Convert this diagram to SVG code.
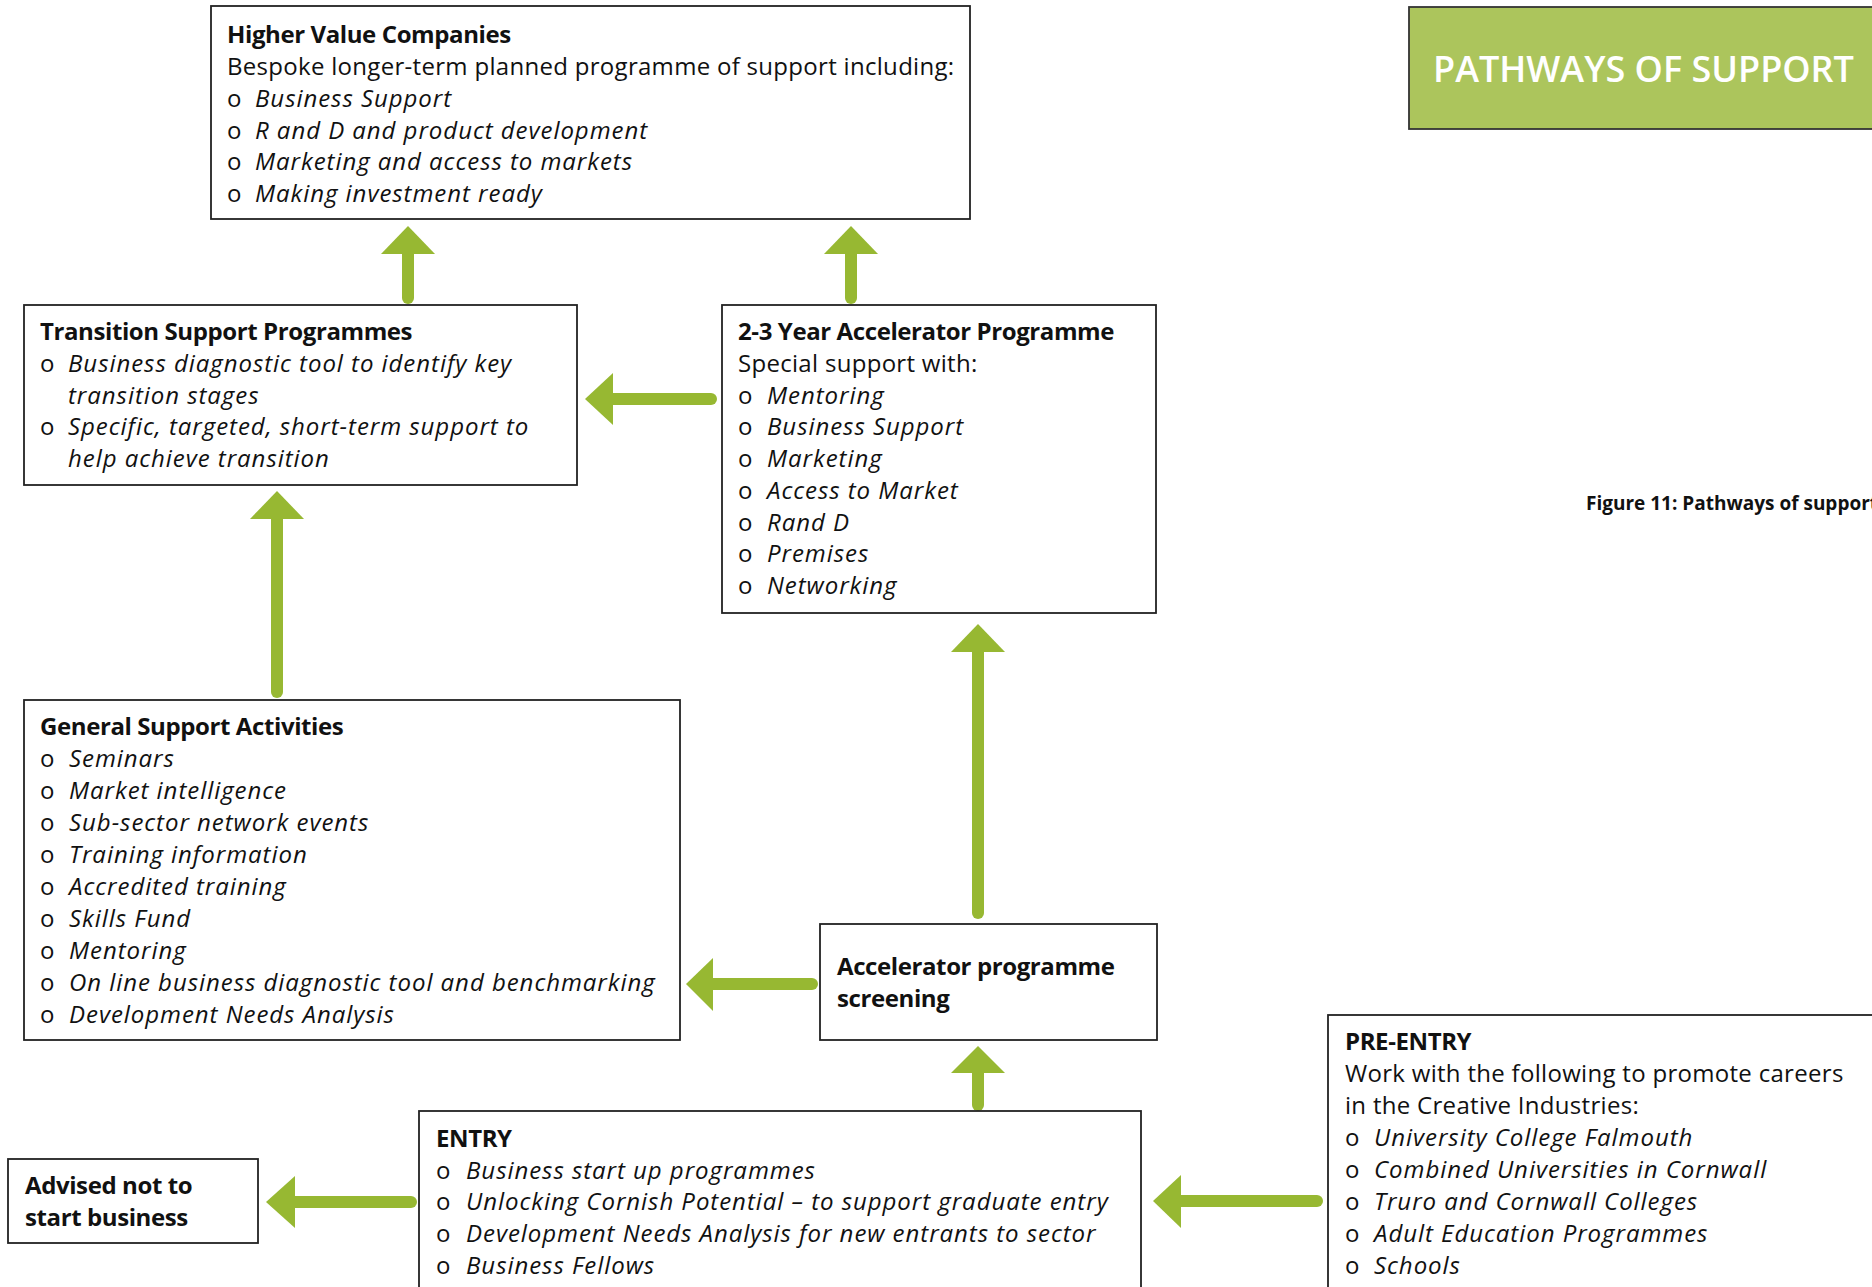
<svg xmlns="http://www.w3.org/2000/svg" width="1872" height="1287" viewBox="0 0 1872 1287">
<defs>
<style>
.box{fill:#ffffff;stroke:#222222;stroke-width:1.8}
.t{font-family:"Open Sans","Liberation Sans",sans-serif;font-size:24px;fill:#111111;letter-spacing:0.3px}
.b{font-weight:bold;letter-spacing:-0.4px}
.i{font-style:italic;letter-spacing:0.95px}
.shaft{stroke:#97b832;stroke-width:12;stroke-linecap:round;fill:none}
.head{fill:#97b832}
</style>
</defs>
<rect width="1872" height="1287" fill="#ffffff"/>

<g id="title">
<rect x="1409" y="7" width="480" height="122" fill="#acc55c" stroke="#333333" stroke-width="1.8"/>
<text x="1433" y="82" font-family="'Open Sans','Liberation Sans',sans-serif" font-size="36" font-weight="600" fill="#ffffff">PATHWAYS OF SUPPORT</text>
</g>

<g id="caption">
<text x="1586" y="510" font-family="'Open Sans','Liberation Sans',sans-serif" font-size="19" font-weight="bold" fill="#111111">Figure 11: Pathways of support</text>
</g>

<g id="connectors">
<line class="shaft" x1="408" y1="250" x2="408" y2="298"/>
<polygon class="head" points="408,226 435,254 381,254"/>
<line class="shaft" x1="851" y1="250" x2="851" y2="298"/>
<polygon class="head" points="851,226 878,254 824,254"/>
<line class="shaft" x1="609" y1="399" x2="711" y2="399"/>
<polygon class="head" points="585,399 613,373 613,425"/>
<line class="shaft" x1="277" y1="515" x2="277" y2="692"/>
<polygon class="head" points="277,491 304,519 250,519"/>
<line class="shaft" x1="978" y1="648" x2="978" y2="913"/>
<polygon class="head" points="978,624 1005,652 951,652"/>
<line class="shaft" x1="709" y1="984" x2="812" y2="984"/>
<polygon class="head" points="686,984 713,958 713,1011"/>
<line class="shaft" x1="978" y1="1069" x2="978" y2="1105"/>
<polygon class="head" points="978,1046 1005,1073 951,1073"/>
<line class="shaft" x1="291" y1="1202" x2="411" y2="1202"/>
<polygon class="head" points="266,1202 295,1176 295,1228"/>
<line class="shaft" x1="1177" y1="1201" x2="1317" y2="1201"/>
<polygon class="head" points="1153,1201 1181,1175 1181,1228"/>
</g>

<g id="higher-value">
<rect class="box" x="211" y="6" width="759" height="213"/>
<text class="t b" x="227" y="43">Higher Value Companies</text>
<text class="t" x="227" y="75">Bespoke longer-term planned programme of support including:</text>
<text class="t" x="227" y="107">o</text><text class="t i" x="255" y="107">Business Support</text>
<text class="t" x="227" y="139">o</text><text class="t i" x="255" y="139">R and D and product development</text>
<text class="t" x="227" y="170">o</text><text class="t i" x="255" y="170">Marketing and access to markets</text>
<text class="t" x="227" y="202">o</text><text class="t i" x="255" y="202">Making investment ready</text>
</g>

<g id="transition">
<rect class="box" x="24" y="305" width="553" height="180"/>
<text class="t b" x="40" y="340">Transition Support Programmes</text>
<text class="t" x="40" y="372">o</text><text class="t i" x="68" y="372">Business diagnostic tool to identify key</text>
<text class="t i" x="68" y="404">transition stages</text>
<text class="t" x="40" y="435">o</text><text class="t i" x="68" y="435">Specific, targeted, short-term support to</text>
<text class="t i" x="68" y="467">help achieve transition</text>
</g>

<g id="accelerator">
<rect class="box" x="722" y="305" width="434" height="308"/>
<text class="t b" x="738" y="340">2-3 Year Accelerator Programme</text>
<text class="t" x="738" y="372">Special support with:</text>
<text class="t" x="738" y="404">o</text><text class="t i" x="767" y="404">Mentoring</text>
<text class="t" x="738" y="435">o</text><text class="t i" x="767" y="435">Business Support</text>
<text class="t" x="738" y="467">o</text><text class="t i" x="767" y="467">Marketing</text>
<text class="t" x="738" y="499">o</text><text class="t i" x="767" y="499">Access to Market</text>
<text class="t" x="738" y="531">o</text><text class="t i" x="767" y="531">Rand D</text>
<text class="t" x="738" y="562">o</text><text class="t i" x="767" y="562">Premises</text>
<text class="t" x="738" y="594">o</text><text class="t i" x="767" y="594">Networking</text>
</g>

<g id="general">
<rect class="box" x="24" y="700" width="656" height="340"/>
<text class="t b" x="40" y="735">General Support Activities</text>
<text class="t" x="40" y="767">o</text><text class="t i" x="69" y="767">Seminars</text>
<text class="t" x="40" y="799">o</text><text class="t i" x="69" y="799">Market intelligence</text>
<text class="t" x="40" y="831">o</text><text class="t i" x="69" y="831">Sub-sector network events</text>
<text class="t" x="40" y="863">o</text><text class="t i" x="69" y="863">Training information</text>
<text class="t" x="40" y="895">o</text><text class="t i" x="69" y="895">Accredited training</text>
<text class="t" x="40" y="927">o</text><text class="t i" x="69" y="927">Skills Fund</text>
<text class="t" x="40" y="959">o</text><text class="t i" x="69" y="959">Mentoring</text>
<text class="t" x="40" y="991">o</text><text class="t i" x="69" y="991">On line business diagnostic tool and benchmarking</text>
<text class="t" x="40" y="1023">o</text><text class="t i" x="69" y="1023">Development Needs Analysis</text>
</g>

<g id="screening">
<rect class="box" x="820" y="924" width="337" height="116"/>
<text class="t b" x="837" y="975">Accelerator programme</text>
<text class="t b" x="837" y="1007">screening</text>
</g>

<g id="entry">
<rect class="box" x="419" y="1111" width="722" height="200"/>
<text class="t b" x="436" y="1147">ENTRY</text>
<text class="t" x="436" y="1179">o</text><text class="t i" x="466" y="1179">Business start up programmes</text>
<text class="t" x="436" y="1210">o</text><text class="t i" x="466" y="1210">Unlocking Cornish Potential – to support graduate entry</text>
<text class="t" x="436" y="1242">o</text><text class="t i" x="466" y="1242">Development Needs Analysis for new entrants to sector</text>
<text class="t" x="436" y="1274">o</text><text class="t i" x="466" y="1274">Business Fellows</text>
</g>

<g id="advised">
<rect class="box" x="8" y="1159" width="250" height="84"/>
<text class="t b" x="25" y="1194">Advised not to</text>
<text class="t b" x="25" y="1226">start business</text>
</g>

<g id="pre-entry">
<rect class="box" x="1328" y="1015" width="600" height="300"/>
<text class="t b" x="1345" y="1050">PRE-ENTRY</text>
<text class="t" x="1345" y="1082">Work with the following to promote careers</text>
<text class="t" x="1345" y="1114">in the Creative Industries:</text>
<text class="t" x="1345" y="1146">o</text><text class="t i" x="1374" y="1146">University College Falmouth</text>
<text class="t" x="1345" y="1178">o</text><text class="t i" x="1374" y="1178">Combined Universities in Cornwall</text>
<text class="t" x="1345" y="1210">o</text><text class="t i" x="1374" y="1210">Truro and Cornwall Colleges</text>
<text class="t" x="1345" y="1242">o</text><text class="t i" x="1374" y="1242">Adult Education Programmes</text>
<text class="t" x="1345" y="1274">o</text><text class="t i" x="1374" y="1274">Schools</text>
</g>
</svg>
